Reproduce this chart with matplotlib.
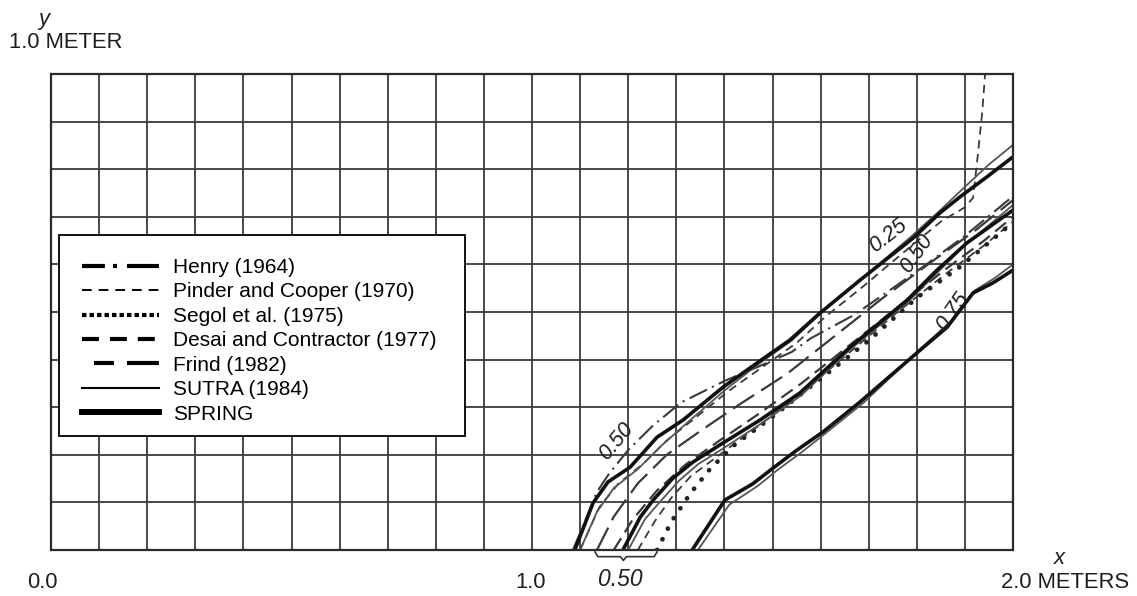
import matplotlib
matplotlib.use("Agg")
import matplotlib.pyplot as plt
from matplotlib.lines import Line2D
from matplotlib.patches import Rectangle
import numpy as np

plt.rcParams['font.family'] = ['Liberation Sans', 'DejaVu Sans']
plt.rcParams['lines.scale_dashes'] = False

# ---------------- data (meters) ----------------
spring25_x = [1.089, 1.127, 1.158, 1.204, 1.260, 1.314, 1.397, 1.468, 1.536, 1.599, 1.682, 1.792, 1.848, 1.890, 1.946, 2.0]
spring25_y = [0.0, 0.099, 0.143, 0.174, 0.237, 0.273, 0.342, 0.393, 0.441, 0.498, 0.567, 0.655, 0.708, 0.742, 0.784, 0.826]
spring50_x = [1.189, 1.225, 1.252, 1.293, 1.335, 1.391, 1.474, 1.557, 1.661, 1.780, 1.842, 1.904, 2.0]
spring50_y = [0.0, 0.069, 0.105, 0.151, 0.185, 0.221, 0.273, 0.330, 0.426, 0.525, 0.588, 0.645, 0.714]
spring75_x = [1.333, 1.401, 1.459, 1.501, 1.551, 1.605, 1.682, 1.807, 1.863, 1.917, 1.958, 2.0]
spring75_y = [0.0, 0.105, 0.139, 0.172, 0.210, 0.248, 0.311, 0.420, 0.468, 0.540, 0.561, 0.588]

sutra25_x = [1.100, 1.135, 1.170, 1.220, 1.270, 1.320, 1.400, 1.470, 1.540, 1.600, 1.680, 1.790, 1.850, 1.900, 1.950, 2.0]
sutra25_y = [0.0, 0.080, 0.130, 0.170, 0.220, 0.265, 0.335, 0.390, 0.440, 0.497, 0.565, 0.660, 0.715, 0.763, 0.810, 0.851]
sutra50_x = [1.200, 1.235, 1.265, 1.305, 1.345, 1.400, 1.480, 1.560, 1.660, 1.780, 1.840, 1.900, 2.0]
sutra50_y = [0.0, 0.065, 0.100, 0.145, 0.180, 0.215, 0.268, 0.325, 0.420, 0.520, 0.580, 0.640, 0.725]
sutra75_x = [1.345, 1.410, 1.470, 1.510, 1.560, 1.610, 1.690, 1.810, 1.870, 1.920, 1.960, 2.0]
sutra75_y = [0.0, 0.095, 0.135, 0.168, 0.205, 0.245, 0.310, 0.425, 0.480, 0.545, 0.570, 0.600]

henry50_x = [1.085, 1.110, 1.135, 1.160, 1.200, 1.250, 1.310, 1.400, 1.470, 1.540, 1.580, 1.670, 1.750, 1.820, 1.900, 1.990, 2.0]
henry50_y = [0.0, 0.060, 0.122, 0.160, 0.210, 0.260, 0.310, 0.355, 0.385, 0.416, 0.445, 0.494, 0.550, 0.600, 0.660, 0.735, 0.742]

pinder25_x = [1.100, 1.140, 1.180, 1.230, 1.280, 1.330, 1.410, 1.480, 1.550, 1.610, 1.690, 1.790, 1.850, 1.900, 1.917, 1.928, 1.936, 1.942]
pinder25_y = [0.0, 0.090, 0.140, 0.180, 0.230, 0.270, 0.335, 0.385, 0.435, 0.490, 0.555, 0.640, 0.690, 0.720, 0.740, 0.840, 0.920, 1.0]
pinder50_x = [1.220, 1.255, 1.290, 1.330, 1.390, 1.470, 1.560, 1.660, 1.760, 1.860, 1.940, 2.0]
pinder50_y = [0.0, 0.060, 0.110, 0.155, 0.200, 0.260, 0.330, 0.415, 0.500, 0.580, 0.640, 0.690]

segol50_x = [1.260, 1.290, 1.330, 1.370, 1.420, 1.500, 1.600, 1.700, 1.800, 1.890, 1.990, 2.0]
segol50_y = [0.0, 0.060, 0.120, 0.170, 0.220, 0.280, 0.360, 0.440, 0.530, 0.595, 0.680, 0.690]

desai50_x = [1.170, 1.210, 1.260, 1.320, 1.390, 1.470, 1.560, 1.660, 1.760, 1.860, 1.940, 2.0]
desai50_y = [0.0, 0.065, 0.125, 0.180, 0.230, 0.285, 0.350, 0.430, 0.510, 0.590, 0.650, 0.700]

frind50_x = [1.135, 1.170, 1.220, 1.280, 1.350, 1.430, 1.530, 1.630, 1.730, 1.830, 1.920, 2.0]
frind50_y = [0.0, 0.070, 0.140, 0.200, 0.250, 0.305, 0.370, 0.450, 0.530, 0.605, 0.670, 0.735]

legend_labels = ["Henry (1964)", "Pinder and Cooper (1970)", "Segol et al. (1975)",
                 "Desai and Contractor (1977)", "Frind (1982)", "SUTRA (1984)", "SPRING"]

# ---------------- figure ----------------
W, H = 1137, 596
fig = plt.figure(figsize=(W / 100, H / 100), dpi=100)
L, R, T, B = 51, 1013, 74, 550
ax = fig.add_axes([L / W, 1 - B / H, (R - L) / W, (B - T) / H])
ax.set_xlim(0, 2.0)
ax.set_ylim(0, 1.0)
ax.set_xticks(np.arange(0, 2.01, 0.1))
ax.set_yticks(np.arange(0, 1.01, 0.1))
ax.tick_params(length=0, labelbottom=False, labelleft=False)
ax.grid(True, color='#3a3a3a', lw=1.3)
ax.set_axisbelow(True)
for s in ax.spines.values():
    s.set_color('#2a2a2a')
    s.set_linewidth(1.6)

gray = '#3a3a3a'
# model curves
ax.plot(henry50_x, henry50_y, color=gray, lw=1.5, dashes=(14, 4, 1.5, 4))
ax.plot(pinder25_x, pinder25_y, color=gray, lw=1.3, dashes=(6, 4))
ax.plot(pinder50_x, pinder50_y, color=gray, lw=1.3, dashes=(6, 4))
ax.plot(desai50_x, desai50_y, color=gray, lw=1.6, dashes=(10, 5))
ax.plot(frind50_x, frind50_y, color=gray, lw=1.6, dashes=(18, 6))
ax.plot(segol50_x, segol50_y, color='#222222', lw=3.4, dashes=(0.1, 8.5),
        dash_capstyle='round')
for xs, ys in [(sutra25_x, sutra25_y), (sutra50_x, sutra50_y), (sutra75_x, sutra75_y)]:
    ax.plot(xs, ys, color='#555555', lw=1.3)
for xs, ys in [(spring25_x, spring25_y), (spring50_x, spring50_y), (spring75_x, spring75_y)]:
    ax.plot(xs, ys, color='#151010', lw=2.6, solid_capstyle='butt')

# contour labels
lab_kw = dict(fontsize=15.5, style='italic', color='#1e1e1e', ha='center', va='center')
ax.text(1.740, 0.660, "0.25", rotation=38, **lab_kw)
ax.text(1.800, 0.622, "0.50", rotation=55, **lab_kw)
ax.text(1.875, 0.500, "0.75", rotation=55, **lab_kw)
ax.text(1.175, 0.228, "0.50", rotation=50, **lab_kw)

# brace under the 0.50 curves
bx0, bx1, bxc = 1.131, 1.260, 1.190
by0, by1, by2 = -0.004, -0.014, -0.022
ax.plot([bx0, bx0 + 0.006, bxc - 0.006, bxc, bxc + 0.006, bx1 - 0.006, bx1],
        [by0, by1, by1, by2, by1, by1, by0], color='#333333', lw=1.2, clip_on=False)

# legend frame (drawn separately) and legend entries
frame = Rectangle((59 / W, 1 - 436 / H), (465 - 59) / W, (436 - 235) / H,
                  transform=fig.transFigure, facecolor='white', edgecolor='#111111',
                  lw=1.4, zorder=4, clip_on=False)
ax.add_patch(frame)

handles = [
    Line2D([], [], color='black', lw=3, dashes=(16.5, 5.8, 2.9, 7.2, 23, 10)),
    Line2D([], [], color='black', lw=1.4, dashes=(7, 5)),
    Line2D([], [], color='black', lw=3, dashes=(3.2, 2.2)),
    Line2D([], [], color='black', lw=3, dashes=(12.2, 7.9)),
    Line2D([], [], color='black', lw=3, dashes=(0.001, 8.6, 14.4, 9.4, 23, 20)),
    Line2D([], [], color='black', lw=1.5),
    Line2D([], [], color='black', lw=4.3),
]
leg = ax.legend(handles, legend_labels, loc='upper left',
                bbox_to_anchor=(82 / W, 1 - 258 / H), bbox_transform=fig.transFigure,
                borderaxespad=0, fontsize=15, handlelength=3.7, handletextpad=0.68,
                labelspacing=0.26, borderpad=0, frameon=False)
leg.set_zorder(5)

# outer labels
def ftext(px, py, s, **kw):
    fig.text(px / W, 1 - py / H, s, ha='center', va='center', **kw)

fs = 15.8
ftext(44, 19, "y", fontsize=fs, style='italic', color='#1e1e1e')
ftext(66, 43, "1.0 METER", fontsize=fs, color='#1e1e1e')
ftext(42, 582, "0.0", fontsize=fs, color='#1e1e1e')
ftext(531, 582, "1.0", fontsize=fs, color='#1e1e1e')
ftext(620, 579, "0.50", fontsize=16.5, style='italic', color='#1e1e1e')
ftext(1059, 558, "x", fontsize=fs, style='italic', color='#1e1e1e')
ftext(1065, 583, "2.0 METERS", fontsize=fs, color='#1e1e1e')

fig.savefig("out.png", dpi=100)
